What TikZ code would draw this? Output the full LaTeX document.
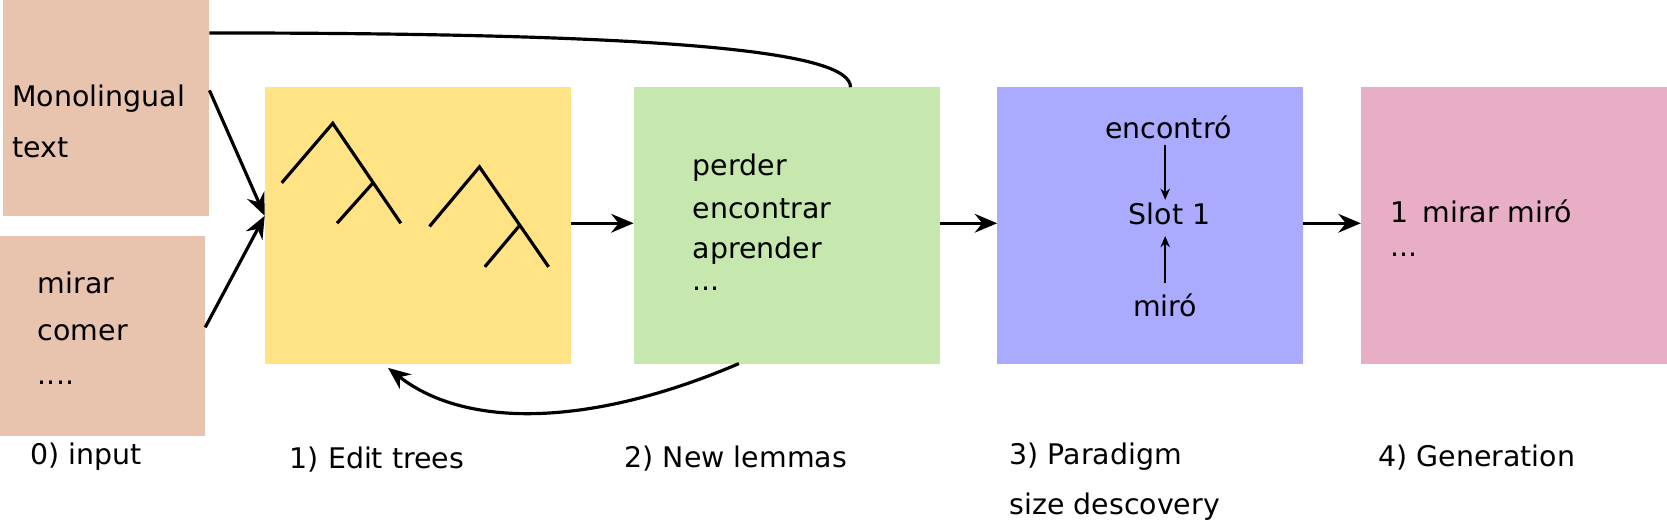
\documentclass[tikz,border=0pt]{standalone}
\usepackage{fontspec}
\setmainfont{DejaVu Sans}
\usetikzlibrary{arrows.meta}
\definecolor{cin}{HTML}{E8C4AF}
\definecolor{cy}{HTML}{FFE384}
\definecolor{cg}{HTML}{C6E8AE}
\definecolor{cb}{HTML}{AAAAFF}
\definecolor{cp}{HTML}{E8AEC6}
\begin{document}
\begin{tikzpicture}[x=0.01cm,y=-0.01cm,
  box/.style={inner sep=0},
  txt/.style={anchor=west,inner sep=0,font=\fontsize{7.6pt}{9pt}\selectfont},
  conn/.style={line width=0.85pt,-{Stealth[length=6pt,width=5pt,inset=2pt]}},
  thin/.style={line width=0.5pt,-{Stealth[length=3pt,width=2.5pt]}},
  tree/.style={line width=0.85pt}]
\useasboundingbox (0,0) rectangle (1568,494);
\fill[cin] (3,0) rectangle (197,203);
\fill[cin] (0,222) rectangle (193,410);
\fill[cy] (249,82) rectangle (537,342);
\fill[cg] (596,82) rectangle (884,342);
\fill[cb] (938,82) rectangle (1226,342);
\fill[cp] (1280,82) rectangle (1568,342);
\coordinate (monoR) at (197,85);
\coordinate (monoT) at (197,31);
\coordinate (mirR) at (193,308);
\coordinate (yIn) at (249,203);
\coordinate (yR) at (537,210);
\coordinate (gL) at (596,210);
\coordinate (gR) at (884,210);
\coordinate (gTop) at (800,82);
\coordinate (gBot) at (695,342);
\coordinate (yBot) at (365,346);
\coordinate (bL) at (938,210);
\coordinate (bR) at (1226,210);
\coordinate (pL) at (1280,210);
\node[txt] (t1) at (11,93) {Monolingual};
\node[txt] (t2) at (11,139) {text};
\node[txt] (m1) at (35,266) {mirar};
\node[txt] (m2) at (35,313) {comer};
\node[txt] (m3) at (35,360) {....};
\draw[conn] (monoR) -- (yIn);
\draw[conn] (mirR) -- (yIn);
\draw[conn] (yR) -- (gL);
\draw[conn] (gR) -- (bL);
\draw[conn] (bR) -- (pL);
\draw[line width=0.85pt] (monoT) .. controls (650,31) and (800,50) .. (gTop);
\draw[conn] (gBot) .. controls (560,400) and (440,405) .. (yBot);
\draw[tree] (265,172) -- (313,116) -- (377,210) (317,210) -- (350,173);
\draw[tree] (404,213) -- (451,157) -- (516,251) (456,251) -- (488,213);
\node[txt] (g1) at (651,158) {perder};
\node[txt] (g2) at (651,196) {encontrar};
\node[txt] (g3) at (651,236) {aprender};
\node[txt] (g4) at (651,272) {...};
\node[txt,anchor=center] (enc) at (1099,120) {encontró};
\node[txt,anchor=center] (slot) at (1100,201) {Slot 1};
\node[txt,anchor=center] (miro) at (1096,287) {miró};
\draw[thin] (1096,136) -- (1096,188);
\draw[thin] (1096,266) -- (1096,222);
\node[txt] (p1) at (1307,199) {1\hspace{0.5em}mirar miró};
\node[txt] (p2) at (1307,240) {...};
\node[txt] (l0) at (28,430) {0) input};
\node[txt] (l1) at (272,432) {1) Edit trees};
\node[txt] (l2) at (587,431) {2) New lemmas};
\node[txt] (l3) at (949,430) {3) Paradigm};
\node[txt] (l3b) at (949,477) {size descovery};
\node[txt] (l4) at (1296,430) {4) Generation};
\end{tikzpicture}
\end{document}
